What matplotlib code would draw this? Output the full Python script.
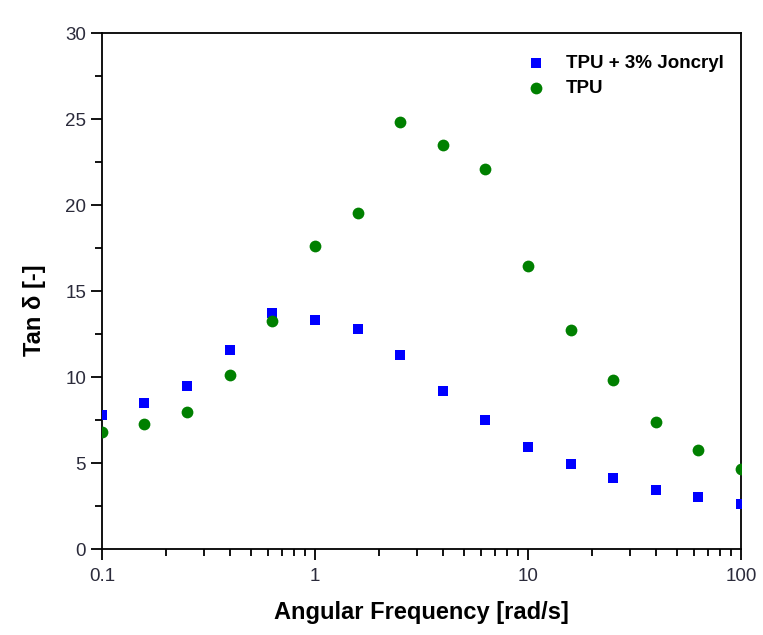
import numpy as np
import matplotlib.pyplot as plt
from matplotlib.ticker import FixedLocator, FixedFormatter, MultipleLocator, LogLocator, NullFormatter

plt.rcParams['font.family'] = ['Liberation Sans', 'DejaVu Sans']

# angular frequency (rad/s), 5 points per decade
freq = [0.1, 0.158, 0.251, 0.398, 0.631, 1.0, 1.585, 2.512, 3.981, 6.31,
        10.0, 15.85, 25.12, 39.81, 63.1, 100.0]
tan_joncryl = [7.8, 8.5, 9.45, 11.55, 13.7, 13.3, 12.8, 11.3, 9.2, 7.5,
               5.95, 4.95, 4.15, 3.45, 3.0, 2.6]
tan_tpu = [6.8, 7.25, 7.95, 10.1, 13.25, 17.6, 19.55, 24.85, 23.5, 22.1,
           16.45, 12.75, 9.8, 7.4, 5.75, 4.65]
xtick_vals = [0.1, 1, 10, 100]
xtick_labels = ['0.1', '1', '10', '100']

fig = plt.figure(figsize=(7.63, 6.35), dpi=100)
ax = fig.add_axes([102 / 763, 1 - 549 / 635, 639 / 763, 516 / 635])

ax.scatter(freq, tan_joncryl, marker='s', s=60, color='#0000ff', linewidths=0,
           label='TPU + 3% Joncryl', zorder=3)
ax.scatter(freq, tan_tpu, marker='o', s=72, color='#008000', linewidths=0,
           label='TPU', zorder=3)

ax.set_xscale('log')
ax.set_xlim(0.1, 100)
ax.set_ylim(0, 30)
ax.xaxis.set_major_locator(FixedLocator(xtick_vals))
ax.xaxis.set_major_formatter(FixedFormatter(xtick_labels))
ax.xaxis.set_minor_locator(LogLocator(base=10, subs=np.arange(2, 10)))
ax.xaxis.set_minor_formatter(NullFormatter())
ax.yaxis.set_major_locator(MultipleLocator(5))
ax.yaxis.set_minor_locator(MultipleLocator(2.5))

ax.tick_params(which='both', direction='out', top=False, right=False,
               labelsize=13.5, labelcolor='#2b2b3b', width=1.3)
ax.tick_params(which='major', length=8)
ax.tick_params(which='minor', length=5)
ax.tick_params(axis='x', pad=6)
for s in ax.spines.values():
    s.set_linewidth(1.3)

ax.set_xlabel('Angular Frequency [rad/s]', fontsize=17, fontweight='bold', labelpad=11)
ax.set_ylabel('Tan δ [-]', fontsize=17, fontweight='bold')
ax.yaxis.set_label_coords(-0.087, 0.463)

ax.legend(loc='upper right', frameon=False, prop={'weight': 'bold', 'size': 13.5},
          handletextpad=0.6, markerscale=1.0, labelspacing=0.4,
          bbox_to_anchor=(1.0, 0.99))

fig.savefig('out.png', dpi=100)
